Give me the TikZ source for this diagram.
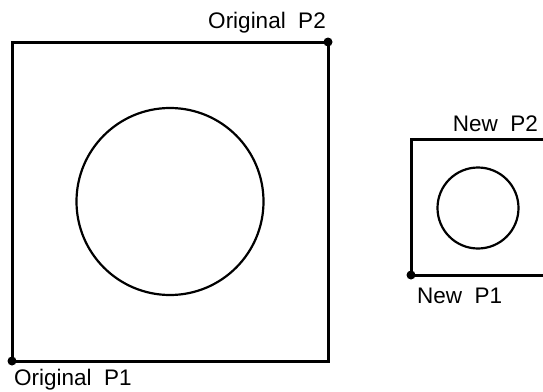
\documentclass[tikz,border=0pt]{standalone}
\usepackage{fontspec}
\setmainfont{Liberation Sans}
\usetikzlibrary{positioning}
\tikzset{
  frame/.style={line width=3pt},
  ring/.style={line width=2.2pt},
  corner/.style={circle,fill,inner sep=0pt,minimum size=9pt},
  lbl/.style={inner sep=0pt,font=\fontsize{22.5}{26}\selectfont}
}
\begin{document}
\begin{tikzpicture}[x=1pt,y=-1pt]
	\useasboundingbox (0,0) rectangle (543,391);
	%ORIGINAL WINDOW
	\coordinate (oP1) at (12,361);
	\coordinate (oP2) at (328,42);
	\draw[frame] (oP1) rectangle (oP2);
	\draw[ring] (170,201.5) circle (93.5pt);
	\node[corner] (oDot1) at (oP1) {};
	\node[corner] (oDot2) at (oP2) {};
	\node[lbl,anchor=base west] (oLbl1) at (14,385.5) {Original\ \ P1};
	\node[lbl,anchor=base east] (oLbl2) at (326,28) {Original\ \ P2};
	
	%NEW WINDOW
	\coordinate (nP1) at (411,275);
	\coordinate (nP2) at (547,139);
	\draw[frame] (nP1) rectangle (nP2);
	\draw[ring] (478,208) circle (40.5pt);
	\node[corner] (nDot1) at (nP1) {};
	\node[corner] (nDot2) at (nP2) {};
	\node[lbl,anchor=base west] (nLbl1) at (417,303) {New\ \ P1};
	\node[lbl,anchor=base east] (nLbl2) at (538,131.5) {New\ \ P2};
\end{tikzpicture}
\end{document}
